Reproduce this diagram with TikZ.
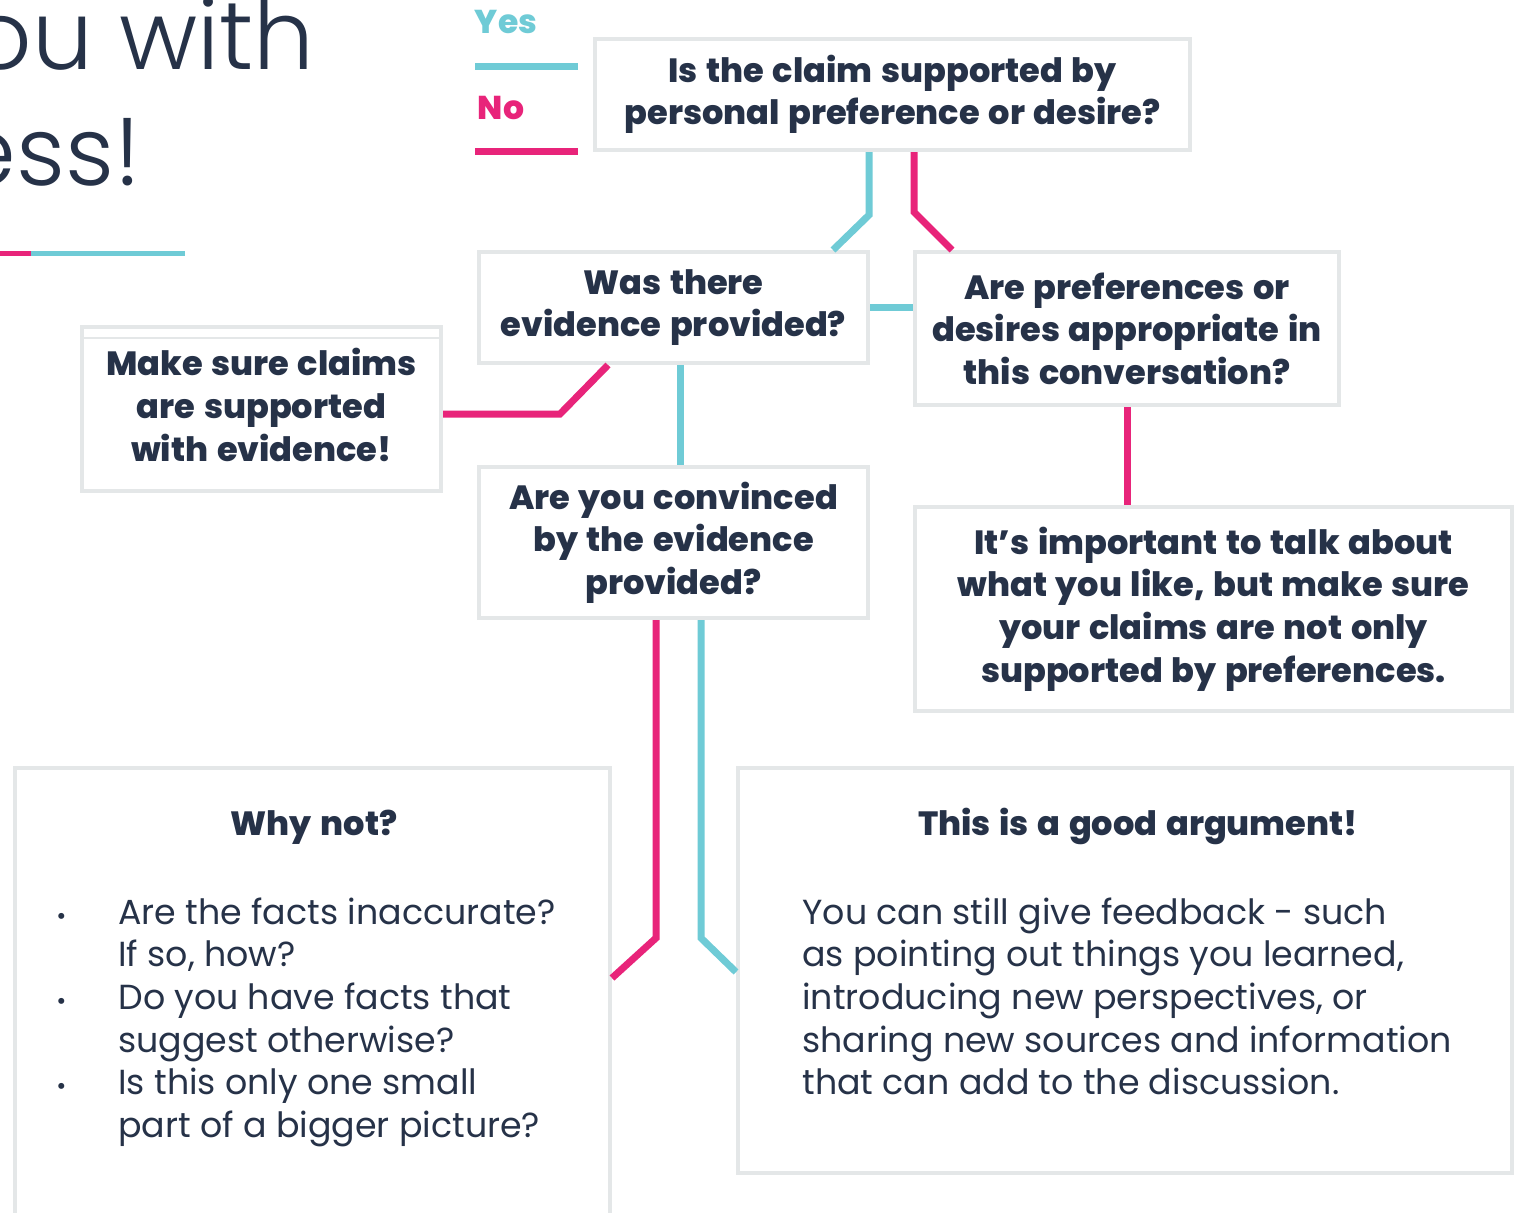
\documentclass[tikz,border=0pt]{standalone}
\usepackage{fontspec}
\setmainfont{Poppins}
\newfontfamily\lightfont{Poppins Light}
\newfontfamily\heavyfont[WordSpace=1.35]{Poppins ExtraBold}
\definecolor{navy}{HTML}{263248}
\definecolor{cyanL}{HTML}{6FCBD6}
\definecolor{pinkL}{HTML}{E8247A}
\definecolor{boxgray}{HTML}{E4E7E8}
\begin{document}
\begin{tikzpicture}[x=0.5pt,y=-0.5pt,
  box/.style={draw=boxgray, line width=2pt, fill=white, inner sep=0pt, align=center,
    font=\heavyfont\fontsize{16.8}{21.3}\selectfont, text=navy},
  yesline/.style={draw=cyanL, line width=3.5pt},
  noline/.style={draw=pinkL, line width=3.5pt},
  plain/.style={inner sep=0pt, text=navy}]
\useasboundingbox[fill=white] (0,0) rectangle (1519,1212);

% title fragment
\node[plain, anchor=base west, font=\lightfont\fontsize{48}{58}\selectfont] (t1) at (-30,69) {ou with};
\node[plain, anchor=base west, font=\lightfont\fontsize{48}{58}\selectfont] (t2) at (-44,185) {ess!};
\coordinate (u0) at (0,253);
\coordinate (u1) at (31,253);
\coordinate (u2) at (185,253);
\draw[pinkL, line width=2.5pt] (u0) -- (u1);
\draw[cyanL, line width=2.5pt] (u1) -- (u2);

% legend
\node[plain, text=cyanL, font=\heavyfont\fontsize{16.5}{20}\selectfont] (yes) at (506,22) {Yes};
\node[plain, text=pinkL, font=\heavyfont\fontsize{16.5}{20}\selectfont] (no) at (501,108) {No};
\coordinate (ly0) at (475,66); \coordinate (ly1) at (578,66);
\coordinate (ln0) at (475,151); \coordinate (ln1) at (578,151);
\draw[yesline] (ly0) -- (ly1);
\draw[noline] (ln0) -- (ln1);

% boxes
\node[box, minimum width=297.5pt, minimum height=55.5pt] (q1) at (892.5,94.5)
  {Is the claim supported by\\personal preference or desire?};
\node[box, minimum width=194.5pt, minimum height=55.5pt] (q2) at (673.5,307.5)
  {Was there\\evidence provided?};
\node[box, minimum width=212pt, minimum height=76.5pt] (q3) at (1127,328.5)
  {Are preferences or\\desires appropriate in\\this conversation?};
\node[box, minimum width=179.5pt, minimum height=82pt] (q4) at (261.5,409) {};
\node[plain, align=center, font=\heavyfont\fontsize{16.8}{21.3}\selectfont] (q4t) at (261.5,405)
  {Make sure claims\\are supported\\with evidence!};
\coordinate (q4a) at (83,338); \coordinate (q4b) at (440,338);
\draw[boxgray, line width=0.8pt] (q4a) -- (q4b);
\node[box, minimum width=194.5pt, minimum height=75.5pt] (q5) at (673.5,542.5)
  {Are you convinced\\by the evidence\\provided?};
\node[box, minimum width=298.5pt, minimum height=102pt] (q6) at (1213.5,609)
  {It’s important to talk about\\what you like, but make sure\\your claims are not only\\supported by preferences.};
\node[box, minimum width=297.5pt, minimum height=235pt] (q7) at (312.5,1003) {};
\node[box, minimum width=387pt, minimum height=202.5pt] (q8) at (1125,970.5) {};

% bottom box texts
\node[plain, anchor=base, font=\heavyfont\fontsize{16.8}{20}\selectfont] (q7h) at (314,835) {Why not?};
\node[plain, anchor=base west, font=\fontsize{17.4}{21.35}\selectfont] (q7b) at (52,924)
  {\parbox[t]{300pt}{%
   \makebox[33pt][l]{\hspace{2pt}\scalebox{0.7}{•}}Are the facts inaccurate?\\
   \hspace*{33pt}If so, how?\\
   \makebox[33pt][l]{\hspace{2pt}\scalebox{0.7}{•}}Do you have facts that\\
   \hspace*{33pt}suggest otherwise?\\
   \makebox[33pt][l]{\hspace{2pt}\scalebox{0.7}{•}}Is this only one small\\
   \hspace*{33pt}part of a bigger picture?}};
\node[plain, anchor=base, font=\heavyfont\fontsize{16.8}{20}\selectfont] (q8h) at (1138,835) {This is a good argument!};
\node[plain, anchor=base west, font=\fontsize{17.4}{21.35}\selectfont] (q8b) at (802,924)
  {\parbox[t]{380pt}{%
   You can still give feedback - such\\
   as pointing out things you learned,\\
   introducing new perspectives, or\\
   sharing new sources and information\\
   that can add to the discussion.}};

% connectors
\coordinate (c1) at (869,215); \coordinate (c1e) at (833,0);
\draw[yesline] (q1.south -| c1) -- (c1) -- (q2.north -| c1e);
\coordinate (p1) at (914,212); \coordinate (p1e) at (952,0);
\draw[noline] (q1.south -| p1) -- (p1) -- (q3.north -| p1e);
\draw[yesline] (q2.east) -- (q2.east -| q3.west);
\coordinate (p2s) at (608,0); \coordinate (p2) at (560,414);
\draw[noline] (q2.south -| p2s) -- (p2) -- (q4.east |- p2);
\coordinate (c2) at (680,0);
\draw[yesline] (q2.south -| c2) -- (q5.north -| c2);
\draw[noline] (q3.south) -- (q6.north -| q3.south);
\coordinate (p3) at (656,938); \coordinate (p3e) at (0,978);
\draw[noline] (q5.south -| p3) -- (p3) -- (q7.east |- p3e);
\coordinate (c3) at (701,938); \coordinate (c3e) at (0,972);
\draw[yesline] (q5.south -| c3) -- (c3) -- (q8.west |- c3e);
\end{tikzpicture}
\end{document}
